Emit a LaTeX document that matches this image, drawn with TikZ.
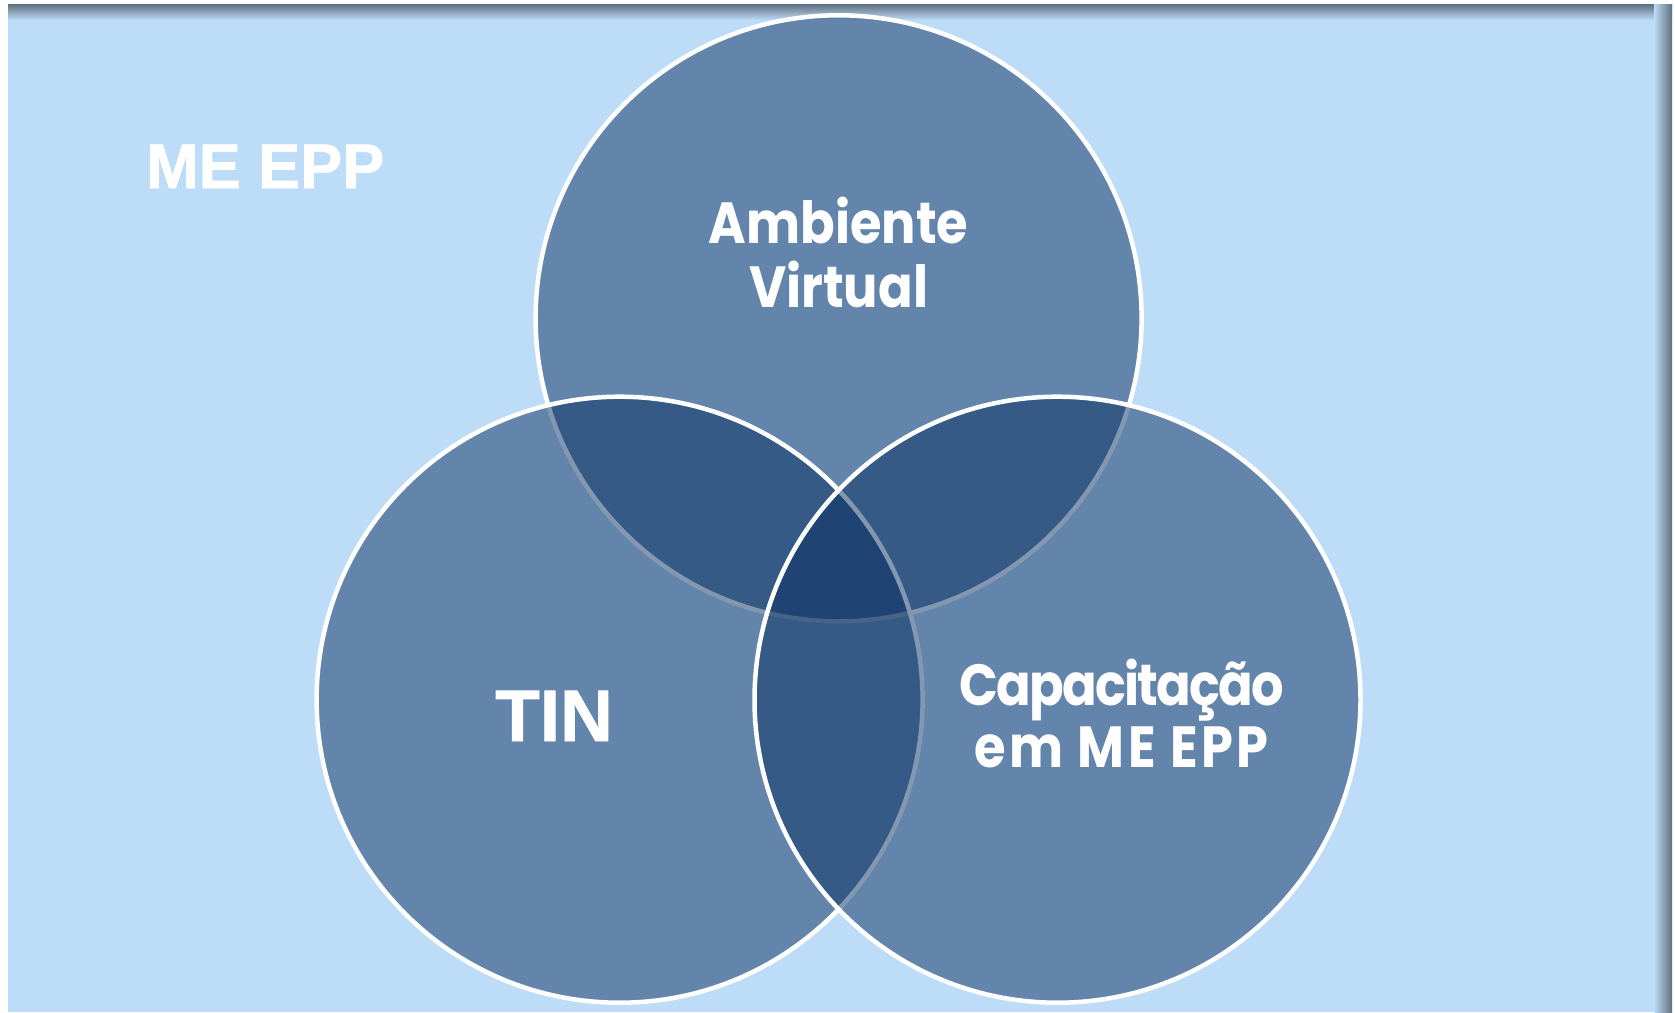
\documentclass[tikz,border=0pt]{standalone}
\usepackage{fontspec}
\setmainfont{Liberation Sans}
\newfontfamily\arialbold[FakeBold=1.2]{Liberation Sans Bold}
\newfontfamily\twfont[FakeStretch=0.88]{Poppins}
\definecolor{bgblue}{HTML}{BDDCF7}
\definecolor{shadowgray}{HTML}{5E6E7E}
\definecolor{circblue}{RGB}{10,48,98}
\begin{document}
\begin{tikzpicture}[x=1pt,y=-1pt,
  vcircle/.style={circle, minimum size=606pt, inner sep=0pt, fill=circblue, fill opacity=0.5, draw=white, line width=4.5pt},
  arialtext/.style={text=white, font=\arialbold\fontsize{#1}{#1}\selectfont, inner sep=0pt, anchor=base},
  twtext/.style={text=white, font=\twfont\fontsize{#1}{#1}\selectfont\bfseries, inner sep=0pt, anchor=base}
]
\useasboundingbox (0,0) rectangle (1675,1012);
\fill[white] (0,0) rectangle (1675,1012);
% background panel
\fill[bgblue] (8,4) rectangle (1672,1012);
\shade[top color=shadowgray, bottom color=bgblue] (8,4) rectangle (1672,20);
\shade[left color=bgblue, right color=shadowgray] (1654,4) rectangle (1672,1012);
% circles
\node[vcircle] (top) at (838.6,318.3) {};
\node[vcircle] (left) at (619.6,699.7) {};
\node[vcircle] (right) at (1057.5,699.7) {};
% labels
\node[arialtext=63, anchor=base west] (meepp) at (146,188) {ME EPP};
\node[twtext=58] (amb1) at (838.6,243.5) {Ambiente};
\node[twtext=58] (amb2) at (838.6,307.6) {Virtual};
\node[arialtext=73] (tin) at (554,741) {TIN};
\node[twtext=58] (cap1) at (1121.6,705) {\addfontfeature{LetterSpace=-3}Capacitação};
\node[twtext=58] (cap2) at (1121.6,767) {\addfontfeature{LetterSpace=6}em ME EPP};
\end{tikzpicture}
\end{document}
